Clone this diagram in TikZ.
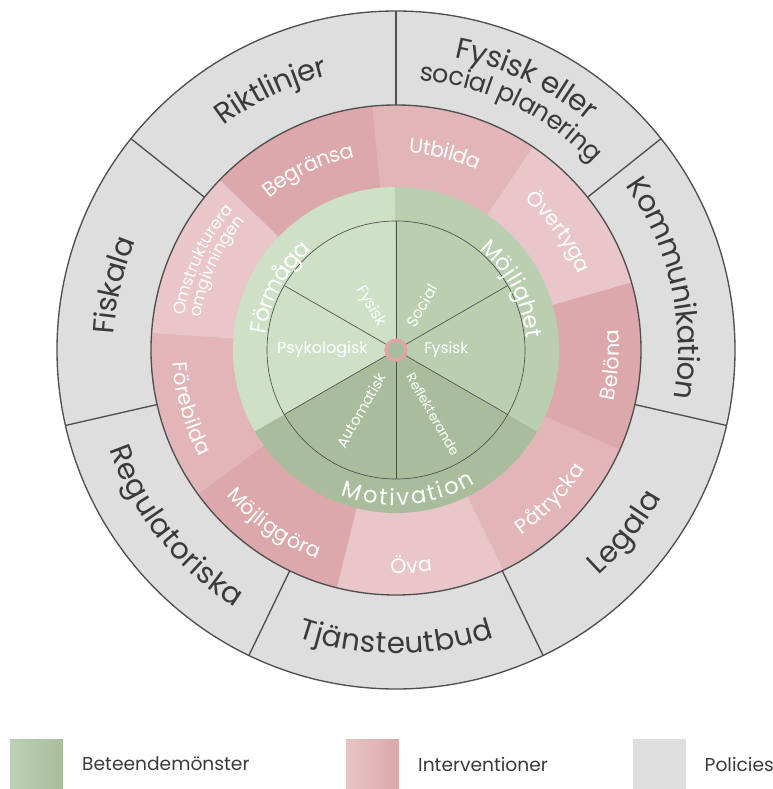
\documentclass[tikz,border=0pt]{standalone}
\usepackage{fontspec}
\setmainfont{Poppins}
\usetikzlibrary{positioning,decorations.text}

\definecolor{polgrey}{HTML}{DEDEDE}
\definecolor{wheelline}{HTML}{4F4F4F}
\definecolor{poltext}{HTML}{3A3A3A}
\definecolor{pinkA}{HTML}{DCA8AB}
\definecolor{pinkB}{HTML}{E2B5B8}
\definecolor{pinkC}{HTML}{E8C6C9}
\definecolor{greenA}{HTML}{CEE1C7}
\definecolor{greenB}{HTML}{B9CFB0}
\definecolor{greenC}{HTML}{A9BD9C}
\definecolor{hubring}{HTML}{E3A3A6}
\definecolor{legG1}{HTML}{BCD1B3}
\definecolor{legG2}{HTML}{A9BD9B}
\definecolor{legP1}{HTML}{E8C4C6}
\definecolor{legP2}{HTML}{DBA7AA}

\tikzset{
  ringline/.style={draw=wheelline, line width=1pt},
  thinline/.style={draw=wheelline, line width=0.5pt},
  innerlab/.style={text=white, inner sep=0pt},
  legbox/.style={minimum width=39.75pt, minimum height=37.5pt, inner sep=0pt},
  legtext/.style={font=\fontsize{14}{16}\selectfont, text=poltext, inner sep=0pt},
}

\begin{document}
\begin{tikzpicture}[x=0.75pt,y=0.75pt]
  \useasboundingbox (-396,-439) rectangle (377,350);

  % policies
  \fill[polgrey] (0,0) circle[radius=339];
  % interventions
  \foreach \a/\c in {96/pinkB,56/pinkC,16/pinkA,-24/pinkB,-64/pinkC,-104/pinkA,-144/pinkB,-184/pinkC,-224/pinkA}
    \fill[\c] (0,0) -- (\a:245) arc[start angle=\a, end angle=\a-40.4, radius=245] -- cycle;
  % behaviour
  \foreach \a/\c in {90/greenA,210/greenC,330/greenB}
    \fill[\c] (0,0) -- (\a:163) arc[start angle=\a, end angle=\a+120.4, radius=163] -- cycle;

  \draw[ringline] (0,0) circle[radius=339];
  \draw[ringline] (0,0) circle[radius=245];
  \foreach \a in {90,38.57,-12.86,-64.29,-115.71,-167.14,141.43}
    \draw[ringline] (\a:245) -- (\a:339);
  \draw[thinline] (0,0) circle[radius=129];
  \foreach \a in {30,90,...,330}
    \draw[thinline] (0,0) -- (\a:129);
  \node[circle, fill=greenC, draw=hubring, line width=2.5pt, minimum size=15pt, inner sep=0pt] (hub) at (0,0) {};

  % inner labels
  \foreach \a/\f/\txt in {0/11.5/Fysisk, 60/11.5/Social, 300/10/Reflekterande}
    \node[innerlab, font=\fontsize{\f}{\f}\selectfont, anchor=west, rotate=\a] (in\a) at (\a:28) {\txt};
  \foreach \a/\f/\txt in {120/11.5/Fysisk, 180/12/Psykologisk, 240/11/Automatisk}
    \node[innerlab, font=\fontsize{\f}{\f}\selectfont, anchor=east, rotate=\a-180] (in\a) at (\a:28) {\txt};

  % ring labels, clockwise
  \foreach \r/\a/\f/\c/\txt in {293/115.71/22/poltext/Riktlinjer, 309/64.3/22/poltext/Fysisk eller,
      280/64.3/19/poltext/social planering, 293/12.86/22/poltext/Kommunikation, 293/167.14/22/poltext/Fiskala,
      205/116/15.5/white/Begränsa, 205/76/15.5/white/Utbilda, 205/36/15.5/white/Övertyga,
      220/155/12.5/white/Omstrukturera, 204/155/12.5/white/omgivningen}{
    \fontsize{\f}{\f}\selectfont
    \pgfmathsetmacro\rs{-0.36*\f}
    \path[decorate, decoration={text along path, text color=\c, text align=center, raise=\rs pt, text/.expand once=\txt}]
      (\a+28:\r) arc[start angle=\a+28, end angle=\a-28, radius=\r];
  }
  % ring labels, counterclockwise
  \foreach \r/\a/\f/\c/\txt in {293/-38.57/22/poltext/Legala, 293/-90/22/poltext/Tjänsteutbud,
      293/-141.43/22/poltext/Regulatoriska, 216/-4/15.5/white/Belöna, 216/-44/15.5/white/Påtrycka,
      216/-86/15.5/white/Öva, 216/-125/15.5/white/Möjliggöra, 216/-164/15.5/white/Förebilda}{
    \fontsize{\f}{\f}\selectfont
    \pgfmathsetmacro\rs{-0.36*\f}
    \path[decorate, decoration={text along path, text color=\c, text align=center, raise=\rs pt, text/.expand once=\txt}]
      (\a-28:\r) arc[start angle=\a-28, end angle=\a+28, radius=\r];
  }
  % behaviour labels, spread out
  \foreach \r/\s/\e/\txt in {139/173/131/Förmåga, 139/50/5/Möjlighet, 147/-111/-59/Motivation}{
    \fontsize{17}{17}\selectfont
    \path[decorate, decoration={text along path, text color=white, text align=fit to path, raise=-6.1pt, text/.expand once=\txt}]
      (\s:\r) arc[start angle=\s, end angle=\e, radius=\r];
  }

  % legend
  \node[legbox, left color=legG1, right color=legG2] (legbeh) at (-359.5,-414) {};
  \node[legtext, right=14pt of legbeh] (txtbeh) {Beteendemönster};
  \node[legbox, left color=legP1, right color=legP2] (legint) at (-23.5,-414) {};
  \node[legtext, right=14pt of legint] (txtint) {Interventioner};
  \node[legbox, fill=polgrey] (legpol) at (263,-414) {};
  \node[legtext, right=14pt of legpol] (txtpol) {Policies};
\end{tikzpicture}
\end{document}
